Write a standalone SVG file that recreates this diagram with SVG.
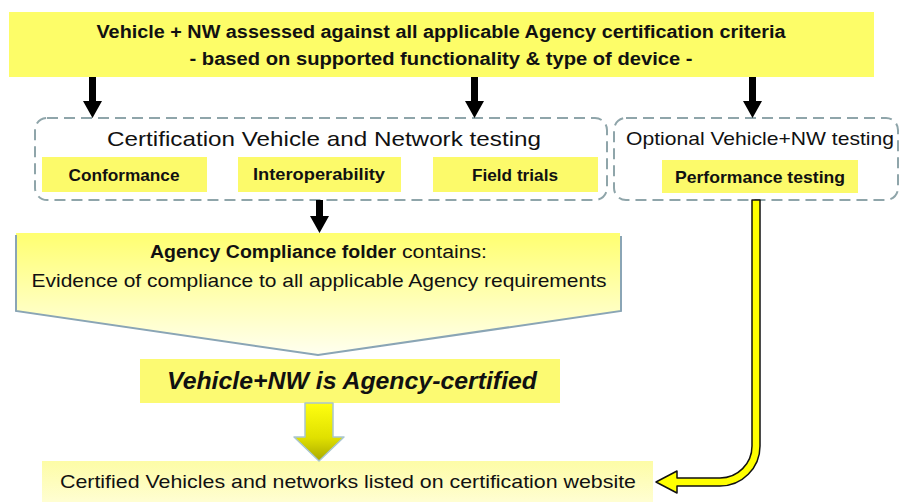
<svg xmlns="http://www.w3.org/2000/svg" width="900" height="502" viewBox="0 0 900 502">
  <style>
    text { font-family: "Liberation Sans", Arial, sans-serif; fill: #111; }
    .b { font-weight: bold; }
    .hl { fill: #fcfa6a; }
    .dash { fill: none; stroke: #8fa5aa; stroke-width: 2; stroke-dasharray: 11 6; }
    .arrow { fill: #000; }
  </style>
  <defs>
    <linearGradient id="folderGrad" x1="0" y1="0" x2="0" y2="1">
      <stop offset="0" stop-color="#ffff70"/>
      <stop offset="1" stop-color="#fffff0"/>
    </linearGradient>
    <linearGradient id="blockGrad" x1="0" y1="0" x2="0" y2="1">
      <stop offset="0" stop-color="#ffff10"/>
      <stop offset="0.6" stop-color="#e0e000"/>
      <stop offset="1" stop-color="#a9a900"/>
    </linearGradient>
    <linearGradient id="listGrad" x1="0" y1="0" x2="0" y2="1">
      <stop offset="0" stop-color="#fdfca6"/>
      <stop offset="1" stop-color="#fffed2"/>
    </linearGradient>
  </defs>

  <rect width="900" height="502" fill="#fff"/>

  <!-- assessment header -->
  <g id="assessment">
    <rect x="9" y="12" width="865" height="65" fill="#fdfd68"/>
    <text class="b" x="441" y="38" font-size="18" text-anchor="middle" textLength="689" lengthAdjust="spacingAndGlyphs">Vehicle + NW assessed against all applicable Agency certification criteria</text>
    <text class="b" x="441" y="65" font-size="18" text-anchor="middle" textLength="503" lengthAdjust="spacingAndGlyphs">- based on supported functionality &amp; type of device -</text>
  </g>

  <!-- certification testing group -->
  <g id="cert-testing">
    <rect class="dash" x="35" y="118" width="572" height="82" rx="12"/>
    <text x="324" y="146" font-size="21" text-anchor="middle" textLength="434" lengthAdjust="spacingAndGlyphs">Certification Vehicle and Network testing</text>
    <g id="conformance">
      <rect class="hl" x="42" y="157" width="165" height="35"/>
      <text class="b" x="124" y="181" font-size="16" text-anchor="middle" textLength="111" lengthAdjust="spacingAndGlyphs">Conformance</text>
    </g>
    <g id="interoperability">
      <rect class="hl" x="238" y="157" width="163" height="35"/>
      <text class="b" x="319" y="180" font-size="16" text-anchor="middle" textLength="132" lengthAdjust="spacingAndGlyphs">Interoperability</text>
    </g>
    <g id="field-trials">
      <rect class="hl" x="433" y="157" width="165" height="35"/>
      <text class="b" x="515" y="181" font-size="16" text-anchor="middle" textLength="86" lengthAdjust="spacingAndGlyphs">Field trials</text>
    </g>
  </g>

  <!-- optional testing group -->
  <g id="optional-testing">
    <rect class="dash" x="614" y="118" width="284" height="82" rx="12"/>
    <text x="760" y="145" font-size="19" text-anchor="middle" textLength="268" lengthAdjust="spacingAndGlyphs">Optional Vehicle+NW testing</text>
    <g id="performance">
      <rect class="hl" x="662" y="160" width="196" height="33"/>
      <text class="b" x="760" y="183" font-size="17" text-anchor="middle" textLength="170" lengthAdjust="spacingAndGlyphs">Performance testing</text>
    </g>
  </g>

  <!-- compliance folder -->
  <g id="compliance-folder">
    <path d="M16,233 H620 V311 L318,355 L16,311 Z" fill="url(#folderGrad)"/>
    <path d="M16,235 V311 L318,355 L621,311 V236" fill="none" stroke="#8aa5b5" stroke-width="2"/>
    <text class="b" x="150" y="258" font-size="18" textLength="246" lengthAdjust="spacingAndGlyphs">Agency Compliance folder</text>
    <text x="402" y="258" font-size="18" textLength="85" lengthAdjust="spacingAndGlyphs">contains:</text>
    <text x="319" y="287" font-size="19" text-anchor="middle" textLength="575" lengthAdjust="spacingAndGlyphs">Evidence of compliance to all applicable Agency requirements</text>
  </g>

  <!-- certified result -->
  <g id="certified">
    <rect x="140" y="359" width="420" height="44" fill="#fcfa72"/>
    <text class="b" x="352" y="389" font-size="23" font-style="italic" text-anchor="middle" textLength="370" lengthAdjust="spacingAndGlyphs">Vehicle+NW is Agency-certified</text>
  </g>

  <!-- listing on website -->
  <g id="website-listing">
    <rect x="42" y="461" width="611" height="41" fill="url(#listGrad)"/>
    <text x="60" y="488" font-size="19" textLength="576" lengthAdjust="spacingAndGlyphs">Certified Vehicles and networks listed on certification website</text>
  </g>

  <!-- connectors -->
  <g id="connectors">
    <path class="arrow" d="M89,77 H96 V101 H102 L92.5,118 L83,101 H89 Z"/>
    <path class="arrow" d="M471,77 H478 V101 H484 L474.5,118 L465,101 H471 Z"/>
    <path class="arrow" d="M749,77 H756 V101 H762 L752.5,118 L743,101 H749 Z"/>
    <path class="arrow" d="M316,200 H323 V216 H329 L319.5,233 L310,216 H316 Z"/>
    <!-- block arrow: certified to listing -->
    <path d="M305,403 H333 V437 H344 L319,461 L294,437 H305 Z" fill="url(#blockGrad)" stroke="#a9c6d0" stroke-width="1.5" stroke-linejoin="round"/>
    <!-- curved arrow: performance testing to listing -->
    <path d="M752,200 H760 V446 A40,40 0 0 1 720,486 H677 V493 L656,482 L677,471 V478 H720 A32,32 0 0 0 752,446 Z" fill="#ffff00" stroke="#111" stroke-width="1.5" stroke-linejoin="round"/>
  </g>
</svg>
